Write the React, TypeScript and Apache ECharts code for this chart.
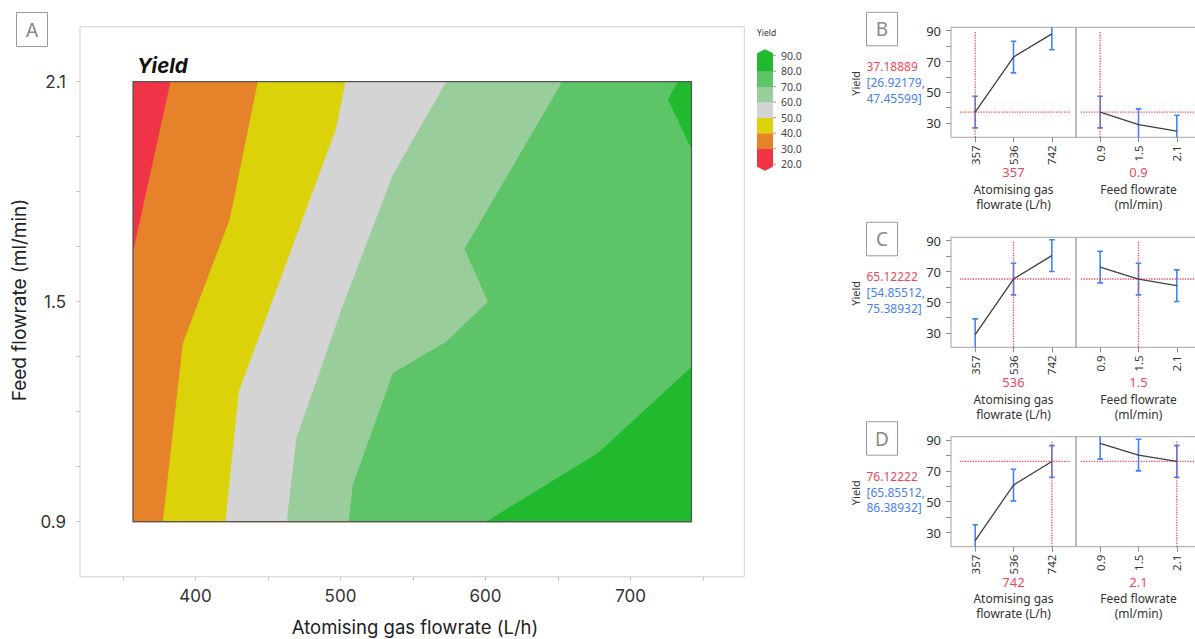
import React, { useEffect, useRef } from 'react';
import * as echarts from 'echarts';

// ---------- Contour plot: Yield vs atomising gas flowrate and feed flowrate ----------
const gasRange = [357, 742];
const feedRange = [0.9, 2.1];
const yieldLevels = [20, 30, 40, 50, 60, 70, 80, 90];
const bandColors = ['#ef3447', '#e5822a', '#dbd20a', '#d4d4d4', '#9acd9c', '#5dc468', '#21ba2f'];

// Iso-yield boundaries, traced from the top edge downward: [gas flowrate (L/h), feed flowrate (ml/min)]
const iso30 = [[383, 2.1], [357, 1.633]];
const iso40 = [[443.2, 2.1], [423.7, 1.723], [391.5, 1.387], [377.7, 0.9]];
const iso50 = [[503.6, 2.1], [497.2, 1.973], [430.1, 1.255], [420.9, 0.9]];
const iso60 = [[573.1, 2.1], [536.3, 1.846], [500.7, 1.477], [469.7, 1.127], [463.2, 0.9]];
const iso70 = [[653.1, 2.1], [585.7, 1.644], [601.8, 1.5], [573.1, 1.391], [536.3, 1.305], [508.7, 1.0], [505.9, 0.9]];
const iso80Lower = [[600.7, 0.9], [677.6, 1.087], [742, 1.321]];
const iso80Upper = [[732.8, 2.1], [725.9, 2.052], [742, 1.918]];

const gasTicks = [350, 400, 450, 500, 550, 600, 650, 700, 750];
const gasLabels = [400, 500, 600, 700];
const feedTicks = [0.9, 1.05, 1.2, 1.35, 1.5, 1.65, 1.8, 1.95, 2.1];
const feedLabels = [0.9, 1.5, 2.1];

// ---------- Prediction profiles ----------
const gasLevels = ['357', '536', '742'];
const feedLevels = ['0.9', '1.5', '2.1'];
// predicted yield, indexed [gas level][feed level]
const predictedYield = [
  [37.18889, 29.0, 24.8],
  [72.9, 65.12222, 60.8],
  [87.9, 80.3, 76.12222],
];
const ciHalfWidth = 10.2671;
const profilerPanels = [
  { tag: 'B', gas: 0, feed: 0 },
  { tag: 'C', gas: 1, feed: 1 },
  { tag: 'D', gas: 2, feed: 2 },
];
const profileTicks = [30, 40, 50, 60, 70, 80, 90];
const profileLabels = [30, 50, 70, 90];

const RED = '#f2465a';
const BLUE = '#4a80f2';
const BAR_BLUE = '#3f84f7';
const SANS = 'Noto Sans';
const MAIN_FONT = 'Inter';

function buildBands() {
  const [x0, x1] = gasRange;
  const [y0, y1] = feedRange;
  const rightOf = (edge: number[][]) => {
    const pts = edge.map((p) => p.slice());
    const last = pts[pts.length - 1];
    if (last[0] === x0 && last[1] > y0) pts.push([x0, y0]);
    pts.push([x1, y0], [x1, y1]);
    return pts;
  };
  return [
    { color: bandColors[0], pts: [[x0, y1], [x1, y1], [x1, y0], [x0, y0]] },
    { color: bandColors[1], pts: rightOf(iso30) },
    { color: bandColors[2], pts: rightOf(iso40) },
    { color: bandColors[3], pts: rightOf(iso50) },
    { color: bandColors[4], pts: rightOf(iso60) },
    { color: bandColors[5], pts: rightOf(iso70) },
    { color: bandColors[6], pts: [...iso80Lower, [x1, y0]] },
    { color: bandColors[6], pts: [...iso80Upper, [x1, y1]] },
  ];
}

function buildOption() {
  const bands = buildBands();
  const grids: any[] = [];
  const xAxes: any[] = [];
  const yAxes: any[] = [];
  const series: any[] = [];
  const graphics: any[] = [];

  // main contour grid
  grids.push({ left: 80, top: 26.7, width: 664.3, height: 550, show: true, borderColor: '#d0d0d0', borderWidth: 1 });
  xAxes.push({
    gridIndex: 0, type: 'value', min: 320.4, max: 778.4,
    axisLine: { show: false, onZero: false }, splitLine: { show: false },
    axisTick: { show: true, customValues: gasTicks, length: 4, lineStyle: { color: '#c6c6c6' } },
    axisLabel: { customValues: gasLabels, margin: 11, fontSize: 17, color: '#333', fontFamily: MAIN_FONT },
  });
  yAxes.push({
    gridIndex: 0, type: 'value', min: 0.75, max: 2.25,
    axisLine: { show: false, onZero: false }, splitLine: { show: false },
    axisTick: { show: true, customValues: feedTicks, length: 4, lineStyle: { color: '#c6c6c6' } },
    axisLabel: { customValues: feedLabels, margin: 14, fontSize: 17, color: '#333', fontFamily: MAIN_FONT, formatter: (v: number) => v.toFixed(1) },
  });
  series.push({
    type: 'custom', xAxisIndex: 0, yAxisIndex: 0, silent: true, clip: true,
    data: bands.map((b) => b.pts[0]),
    renderItem: (params: any, api: any) => {
      const b = bands[params.dataIndex];
      return {
        type: 'polygon',
        shape: { points: b.pts.map((p) => api.coord(p)) },
        style: { fill: b.color, stroke: b.color, lineWidth: 0.6 },
      };
    },
  });
  // frame around the design space
  series.push({
    type: 'custom', xAxisIndex: 0, yAxisIndex: 0, silent: true,
    data: [[gasRange[0], feedRange[0]]],
    renderItem: (_p: any, api: any) => ({
      type: 'polygon',
      shape: {
        points: [
          api.coord([gasRange[0], feedRange[1]]),
          api.coord([gasRange[1], feedRange[1]]),
          api.coord([gasRange[1], feedRange[0]]),
          api.coord([gasRange[0], feedRange[0]]),
        ],
      },
      style: { fill: 'none', stroke: '#555', lineWidth: 1.2 },
    }),
  });

  // panel letter A, titles
  graphics.push(
    { type: 'rect', shape: { x: 16.5, y: 12.5, width: 31, height: 34 }, style: { fill: '#fff', stroke: '#9a9a9a', lineWidth: 1 } },
    { type: 'text', x: 32, y: 30, style: { text: 'A', fill: '#8a8a8a', fontSize: 19, fontFamily: MAIN_FONT, textAlign: 'center', textVerticalAlign: 'middle' } },
    { type: 'text', x: 137, y: 65, style: { text: 'Yield', fill: '#111', fontSize: 20.5, fontWeight: 'bold', fontStyle: 'italic', fontFamily: MAIN_FONT, textAlign: 'left', textVerticalAlign: 'middle' } },
    { type: 'text', x: 415, y: 627, style: { text: 'Atomising gas flowrate (L/h)', fill: '#222', fontSize: 18.5, fontFamily: MAIN_FONT, textAlign: 'center', textVerticalAlign: 'middle' } },
    { type: 'text', x: 19, y: 300, rotation: Math.PI / 2, style: { text: 'Feed flowrate (ml/min)', fill: '#222', fontSize: 19, fontFamily: MAIN_FONT, textAlign: 'center', textVerticalAlign: 'middle' } },
  );

  // colour key
  const legX = 757;
  const legW = 16;
  const legTop = 55.7;
  const legStep = 15.5;
  const levelY = (lv: number) => legTop + ((yieldLevels[yieldLevels.length - 1] - lv) / 10) * legStep;
  graphics.push({ type: 'text', x: legX, y: 32, style: { text: 'Yield', fill: '#333', fontSize: 8.5, fontFamily: SANS, textAlign: 'left', textVerticalAlign: 'middle' } });
  bandColors.forEach((c, i) => {
    graphics.push({ type: 'rect', shape: { x: legX, y: levelY(yieldLevels[i + 1]), width: legW, height: legStep + 0.3 }, style: { fill: c } });
  });
  const top = levelY(90);
  const bot = levelY(20);
  graphics.push(
    { type: 'polygon', shape: { points: [[legX, top + 0.5], [legX, top - 2.5], [legX + legW / 2, top - 6.5], [legX + legW, top - 2.5], [legX + legW, top + 0.5]] }, style: { fill: bandColors[6] } },
    { type: 'polygon', shape: { points: [[legX, bot - 0.5], [legX, bot + 2.5], [legX + legW / 2, bot + 6.5], [legX + legW, bot + 2.5], [legX + legW, bot - 0.5]] }, style: { fill: bandColors[0] } },
  );
  yieldLevels.forEach((lv) => {
    const y = levelY(lv);
    graphics.push(
      { type: 'line', shape: { x1: legX + legW, y1: y, x2: legX + legW + 3, y2: y }, style: { stroke: '#9a9a9a', lineWidth: 1 } },
      { type: 'text', x: legX + legW + 8, y, style: { text: lv.toFixed(1), fill: '#444', fontSize: 10.5, fontFamily: SANS, textAlign: 'left', textVerticalAlign: 'middle' } },
    );
  });

  // ---------- profiler panels ----------
  const profTop = [27.3, 237.3, 436.7];
  const profLeft = 951;
  const subW = 125;
  const subH = 110;
  const xMin = -0.63;
  const xMax = 2.63;
  const yMin = 20.8;
  const yMax = 92.2;

  const errorBar = (_params: any, api: any) => {
    const x = api.value(0);
    const v = api.value(1);
    const hi = api.coord([x, v + ciHalfWidth]);
    const lo = api.coord([x, v - ciHalfWidth]);
    const cap = 2.8;
    const st = { stroke: BAR_BLUE, lineWidth: 1.6 };
    return {
      type: 'group',
      children: [
        { type: 'line', shape: { x1: hi[0], y1: hi[1], x2: lo[0], y2: lo[1] }, style: st },
        { type: 'line', shape: { x1: hi[0] - cap, y1: hi[1], x2: hi[0] + cap, y2: hi[1] }, style: st },
        { type: 'line', shape: { x1: lo[0] - cap, y1: lo[1], x2: lo[0] + cap, y2: lo[1] }, style: st },
      ],
    };
  };

  profilerPanels.forEach((p, k) => {
    const t = profTop[k];
    const current = predictedYield[p.gas][p.feed];
    [0, 1].forEach((side) => {
      grids.push({ left: profLeft + side * subW, top: t, width: subW, height: subH, show: true, borderColor: '#a4a4a4', borderWidth: 1 });
      const gi = grids.length - 1;
      const names = side === 0 ? gasLevels : feedLevels;
      xAxes.push({
        gridIndex: gi, type: 'value', min: xMin, max: xMax,
        axisLine: { show: false, onZero: false }, splitLine: { show: false },
        axisTick: { show: true, customValues: [0, 1, 2], length: 5, lineStyle: { color: '#8c8c8c' } },
        axisLabel: { customValues: [0, 1, 2], rotate: 90, margin: 8, fontSize: 11.5, color: '#333', fontFamily: SANS, formatter: (v: number) => names[Math.round(v)] },
      });
      yAxes.push({
        gridIndex: gi, type: 'value', min: yMin, max: yMax,
        axisLine: { show: false, onZero: false }, splitLine: { show: false },
        axisTick: { show: side === 0, customValues: profileTicks, length: 5, lineStyle: { color: '#8c8c8c' } },
        axisLabel: { show: side === 0, customValues: profileLabels, margin: 10, fontSize: 13, color: '#333', fontFamily: SANS },
      });
      const trace = side === 0
        ? [0, 1, 2].map((i) => [i, predictedYield[i][p.feed]])
        : [0, 1, 2].map((j) => [j, predictedYield[p.gas][j]]);
      const cur = side === 0 ? p.gas : p.feed;
      const dotted = { type: 'dotted', color: RED, width: 1.3 };
      series.push(
        { type: 'line', xAxisIndex: gi, yAxisIndex: gi, silent: true, symbol: 'none', data: [[cur, yMin], [cur, yMax - 2.6]], lineStyle: dotted },
        { type: 'line', xAxisIndex: gi, yAxisIndex: gi, silent: true, symbol: 'none', data: [[side === 0 ? -0.4 : -0.5, current], [side === 0 ? 2.47 : xMax, current]], lineStyle: dotted },
        { type: 'custom', xAxisIndex: gi, yAxisIndex: gi, silent: true, clip: true, data: trace, renderItem: errorBar },
        { type: 'line', xAxisIndex: gi, yAxisIndex: gi, silent: true, symbol: 'none', data: trace, lineStyle: { color: '#3f3f3f', width: 1.3 } },
      );
      const cx = profLeft + side * subW + subW / 2;
      const bottom = t + subH;
      const title = side === 0 ? ['Atomising gas', 'flowrate (L/h)'] : ['Feed flowrate', '(ml/min)'];
      graphics.push(
        { type: 'text', x: cx, y: bottom + 35, style: { text: names[cur], fill: RED, fontSize: 13, fontFamily: SANS, textAlign: 'center', textVerticalAlign: 'middle' } },
        { type: 'text', x: cx, y: bottom + 52, style: { text: title[0], fill: '#333', fontSize: 12, fontFamily: SANS, textAlign: 'center', textVerticalAlign: 'middle' } },
        { type: 'text', x: cx, y: bottom + 67, style: { text: title[1], fill: '#333', fontSize: 12, fontFamily: SANS, textAlign: 'center', textVerticalAlign: 'middle' } },
      );
    });
    graphics.push(
      { type: 'rect', shape: { x: 866.5, y: t - 15, width: 31, height: 33.5 }, style: { fill: '#fff', stroke: '#9a9a9a', lineWidth: 1 } },
      { type: 'text', x: 882, y: t + 1.8, style: { text: p.tag, fill: '#8a8a8a', fontSize: 19, fontFamily: SANS, textAlign: 'center', textVerticalAlign: 'middle' } },
      { type: 'text', x: 855, y: t + 56, rotation: Math.PI / 2, style: { text: 'Yield', fill: '#333', fontSize: 11, fontFamily: SANS, textAlign: 'center', textVerticalAlign: 'middle' } },
      { type: 'text', x: 866.5, y: t + 39.4, style: { text: current.toFixed(5), fill: RED, fontSize: 12, fontFamily: SANS, textAlign: 'left', textVerticalAlign: 'middle' } },
      { type: 'text', x: 866.5, y: t + 55.4, style: { text: '[' + (current - ciHalfWidth).toFixed(5) + ',', fill: BLUE, fontSize: 12, fontFamily: SANS, textAlign: 'left', textVerticalAlign: 'middle' } },
      { type: 'text', x: 866.5, y: t + 71, style: { text: (current + ciHalfWidth).toFixed(5) + ']', fill: BLUE, fontSize: 12, fontFamily: SANS, textAlign: 'left', textVerticalAlign: 'middle' } },
    );
  });

  return {
    animation: false,
    backgroundColor: '#ffffff',
    textStyle: { fontFamily: SANS },
    grid: grids,
    xAxis: xAxes,
    yAxis: yAxes,
    series,
    graphic: { elements: graphics },
  };
}

// The canvas is a little wider than the window so that the right-hand
// profile keeps its full width and runs past the visible edge.
const CANVAS_W = 1220;
const CANVAS_H = 639;

export default function App() {
  const ref = useRef<HTMLDivElement>(null);
  useEffect(() => {
    if (!ref.current) return;
    const chart = echarts.init(ref.current, null, { renderer: 'svg' });
    chart.setOption(buildOption() as any);
    return () => chart.dispose();
  }, []);
  return <div ref={ref} style={{ position: 'fixed', left: 0, top: 0, width: CANVAS_W, height: CANVAS_H, background: '#fff' }} />;
}
